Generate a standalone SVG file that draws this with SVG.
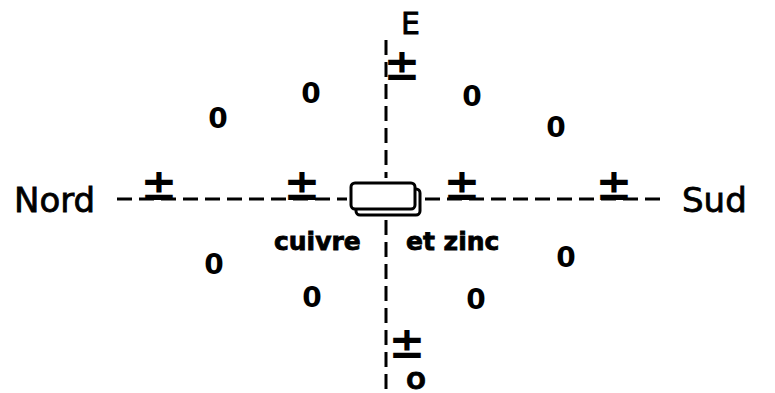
<svg xmlns="http://www.w3.org/2000/svg" width="775" height="393" viewBox="0 0 775 393">
<style>
.dash{stroke:#000;stroke-width:3;fill:none;stroke-dasharray:15 7}
.lbl{font-family:"DejaVu Sans",sans-serif;fill:#000;stroke:#000;stroke-width:0.8}
.pm{font-family:"DejaVu Sans",sans-serif;font-weight:bold;font-size:44px;fill:#000;text-anchor:middle}
.z{font-family:"DejaVu Sans",sans-serif;font-weight:bold;font-size:28px;fill:#000;text-anchor:middle}
.elec{fill:#fff;stroke:#000;stroke-width:3}
</style>
<rect width="775" height="393" fill="#fff"/>
<g id="connectors">
<path class="dash" d="M117 199H347"/>
<path class="dash" d="M425 199H665"/>
<path class="dash" d="M386 40V178"/>
<path class="dash" d="M386 220V392"/>
</g>
<g id="electrode">
<rect class="elec" x="356" y="189" width="64" height="26" rx="4"/>
<rect class="elec" x="351" y="183" width="64" height="26" rx="4"/>
</g>
<g id="nord"><text class="lbl" x="14" y="212" font-size="34">Nord</text></g>
<g id="sud"><text class="lbl" x="682" y="212" font-size="34">Sud</text></g>
<g id="est"><text class="lbl" x="401" y="34" font-size="30">E</text></g>
<g id="ouest"><text class="lbl" x="416" y="389" font-size="23" font-weight="bold" text-anchor="middle">O</text></g>
<g id="cuivre"><text class="lbl" x="274" y="250" font-size="25" font-weight="bold" stroke-width="0.3">cuivre</text></g>
<g id="zinc"><text class="lbl" x="406" y="250" font-size="25" font-weight="bold" stroke-width="0.3">et zinc</text></g>
<g id="pm-n1"><text class="pm" x="159" y="200">±</text></g>
<g id="pm-n2"><text class="pm" x="302" y="200">±</text></g>
<g id="pm-s1"><text class="pm" x="462" y="200">±</text></g>
<g id="pm-s2"><text class="pm" x="614" y="200">±</text></g>
<g id="pm-e"><text class="pm" x="402" y="80">±</text></g>
<g id="pm-o"><text class="pm" x="407" y="358">±</text></g>
<g id="z1"><text class="z" x="218" y="128">0</text></g>
<g id="z2"><text class="z" x="311" y="103">0</text></g>
<g id="z3"><text class="z" x="472" y="106">0</text></g>
<g id="z4"><text class="z" x="556" y="137">0</text></g>
<g id="z5"><text class="z" x="214" y="274">0</text></g>
<g id="z6"><text class="z" x="312" y="307">0</text></g>
<g id="z7"><text class="z" x="476" y="309">0</text></g>
<g id="z8"><text class="z" x="566" y="267">0</text></g>
</svg>
